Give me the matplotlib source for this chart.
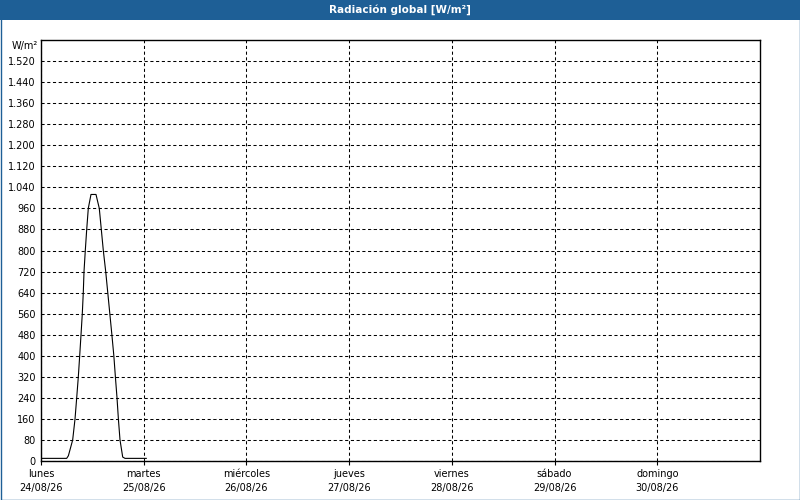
import matplotlib
matplotlib.use("Agg")
import matplotlib.pyplot as plt
import matplotlib.patches as patches
from matplotlib.ticker import FuncFormatter
import numpy as np

# hours since lunes 00:00 and global radiation (W/m2)
hours = [0.0, 6.0, 6.4, 7.4, 7.95, 8.34, 8.72, 9.04, 9.35, 9.65, 9.88, 10.05, 10.35,
         10.68, 11.05, 11.68, 12.85, 13.62, 14.09, 14.56, 15.12, 15.6, 16.08, 16.56,
         17.02, 17.38, 17.76, 18.08, 18.46, 19.09, 19.63, 24.6]
radiation = [10, 10, 20, 80, 160, 240, 320, 400, 480, 560, 640, 720, 800,
             880, 960, 1013, 1013, 960, 880, 800, 720, 640, 560, 480,
             400, 320, 240, 160, 80, 15, 10, 10]

day_names = ["lunes", "martes", "miércoles", "jueves", "viernes", "sábado", "domingo"]
day_dates = ["24/08/26", "25/08/26", "26/08/26", "27/08/26", "28/08/26", "29/08/26", "30/08/26"]
y_ticks = list(range(0, 1600, 80))

blue = "#1e5f96"
W, H = 800, 500

plt.rcParams['font.family'] = ['DejaVu Sans']
fig = plt.figure(figsize=(8, 5), dpi=100)
fig.patch.set_facecolor("white")

# title bar + frame
fig.patches.append(patches.Rectangle((0, 1 - 20 / H), 1, 20 / H, transform=fig.transFigure,
                                     facecolor=blue, edgecolor="none", zorder=0))
fig.patches.append(patches.Rectangle((0.5 / W, 0.5 / H), 1 - 1 / W, 1 - 1 / H, transform=fig.transFigure,
                                     facecolor="none", edgecolor=blue, linewidth=1.0, zorder=1))
fig.text(0.5, 1 - 10 / H, "Radiación global [W/m²]", color="white", fontsize=7.5,
         fontweight="bold", ha="center", va="center")

ax = fig.add_axes([41 / W, (H - 461) / H, 719 / W, 421 / H])
x = np.array(hours) / 24.0
ax.plot(x, radiation, color="black", linewidth=0.8, zorder=3)

ax.set_xlim(0, 7)
ax.set_ylim(0, 1600)
ax.set_yticks(y_ticks)
ax.yaxis.set_major_formatter(FuncFormatter(lambda v, p: f"{int(v):,}".replace(",", ".")))
ax.set_xticks(range(7))
ax.set_xticklabels([f"{n}\n{d}" for n, d in zip(day_names, day_dates)], linespacing=1.45)

ax.tick_params(axis="y", length=0, pad=4, labelsize=7, colors="black")
ax.tick_params(axis="x", length=3, width=0.8, pad=3, labelsize=7, colors="black")
ax.grid(True, color="black", linewidth=0.75, linestyle=(0, (3, 2.5)))
for s in ax.spines.values():
    s.set_linewidth(1.0)
    s.set_color("black")

fig.text(38 / W, 1 - 46 / H, "W/m²", fontsize=7, ha="right", va="center")

fig.savefig("out.png", dpi=100)
